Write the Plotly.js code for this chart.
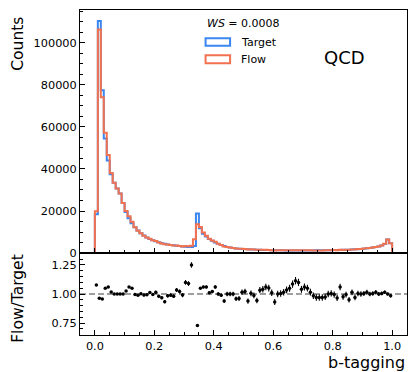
<!DOCTYPE html>
<html>
<head>
<meta charset="utf-8">
<script src="https://cdn.plot.ly/plotly-3.0.1.min.js"></script>
<style>html,body{margin:0;padding:0;background:#fff;}#chart{width:409px;height:372px;}</style>
</head>
<body>
<div id="chart"></div>
<script>
// ---- data ----
const binLow = 0.0;
const binHigh = 1.0;
const nBins = 100;

// Target counts per bin (0.01 wide bins, 0 .. 1)
const target = [
  18500, 110500, 77500, 54500, 44000, 37500, 33500, 30700, 28300, 23800,
  19500, 16500, 14200, 12300, 10700, 9400, 8300, 7400, 6700, 6100,
  5600, 5100, 4700, 4400, 4100, 3850, 3650, 3450, 3300, 3150,
  3000, 2900, 2800, 3300, 18800, 11800, 9200, 7800, 6700, 5800,
  5000, 4400, 3800, 3300, 2900, 2600, 2400, 2200, 2050, 1950,
  1900, 1800, 1720, 1650, 1580, 1520, 1470, 1420, 1380, 1350,
  1320, 1300, 1280, 1260, 1250, 1240, 1230, 1220, 1220, 1220,
  1220, 1230, 1240, 1250, 1260, 1270, 1290, 1310, 1330, 1360,
  1390, 1420, 1460, 1500, 1550, 1600, 1670, 1750, 1840, 1950,
  2080, 2230, 2400, 2600, 2850, 3150, 3600, 4300, 6400, 4700
];

// Flow counts per bin
const flow = [
  19920, 106400, 74170, 57220, 46640, 38140, 33500, 30700, 28300, 23800,
  20010, 17490, 14910, 12260, 10590, 9430, 8220, 7360, 6790, 6080,
  5680, 5000, 4550, 4110, 4040, 3810, 3580, 3570, 3370, 3120,
  3300, 3160, 3500, 6600, 13720, 12390, 9750, 8270, 6770, 5920,
  5300, 4400, 3760, 3100, 2900, 2600, 2400, 2110, 1970, 1980,
  1940, 1690, 1730, 1630, 1490, 1570, 1530, 1505, 1450, 1365,
  1228, 1300, 1286, 1279, 1294, 1302, 1335, 1360, 1342, 1269,
  1293, 1292, 1259, 1231, 1222, 1232, 1251, 1277, 1330, 1367,
  1383, 1370, 1548, 1463, 1542, 1520, 1695, 1698, 1849, 1950,
  2090, 2263, 2400, 2613, 2893, 3150, 3618, 4365, 6400, 4630
];

const xTickVals = [0.0, 0.2, 0.4, 0.6, 0.8, 1.0];
const ratioTickVals = [0.75, 1.00, 1.25];

// ---- derived ----
const binW = (binHigh - binLow) / nBins;
const edges = [];
for (let i = 0; i <= nBins; i++) edges.push(+(binLow + i * binW).toFixed(4));
const centers = [];
for (let i = 0; i < nBins; i++) centers.push((edges[i] + edges[i + 1]) / 2);

const stepX = [edges[0]].concat(edges);
const stepY = (arr) => [0].concat(arr).concat([0]);

const ratio = flow.map((f, i) => f / target[i]);
// statistical uncertainty of the ratio from the target counts
const ratioErr = flow.map((f, i) => ratio[i] / Math.sqrt(target[i]));

const blue = '#3b86f0';
const orange = '#f2714f';
const FONT = 'DejaVu Sans, Liberation Sans, sans-serif';

const traces = [
  {
    x: stepX, y: stepY(target), type: 'scatter', mode: 'lines',
    line: {shape: 'hv', color: blue, width: 2}, xaxis: 'x', yaxis: 'y',
    hoverinfo: 'skip', showlegend: false
  },
  {
    x: stepX, y: stepY(flow), type: 'scatter', mode: 'lines',
    line: {shape: 'hv', color: orange, width: 2}, xaxis: 'x', yaxis: 'y',
    hoverinfo: 'skip', showlegend: false
  },
  {
    x: centers, y: ratio, type: 'scatter', mode: 'markers',
    marker: {color: 'black', size: 3.5},
    error_y: {type: 'data', array: ratioErr, visible: true, color: 'black', thickness: 1.1, width: 0},
    xaxis: 'x2', yaxis: 'y2', showlegend: false, cliponaxis: true
  }
];

const split = 0.2523;
const axisCommon = {
  showgrid: false, zeroline: false, showline: true, mirror: true,
  linecolor: 'black', linewidth: 1, ticks: 'inside', ticklen: 5, tickwidth: 1,
  tickcolor: 'black', tickfont: {family: FONT, size: 11.3, color: 'black'}
};

const layout = {
  width: 409, height: 372,
  margin: {l: 80, r: 2, t: 10, b: 37},
  paper_bgcolor: 'white', plot_bgcolor: 'white',
  font: {family: FONT, color: 'black'},
  showlegend: false,
  xaxis: Object.assign({}, axisCommon, {
    domain: [0, 1], anchor: 'y', range: [-0.05, 1.05],
    tickvals: xTickVals, showticklabels: false,
    minor: {dtick: 0.05, tick0: 0, ticks: 'inside', ticklen: 3, tickcolor: 'black'}
  }),
  yaxis: Object.assign({}, axisCommon, {
    domain: [split, 1], anchor: 'x', range: [0, 115700],
    dtick: 20000, tick0: 0, tickformat: 'd',
    minor: {dtick: 5000, tick0: 0, ticks: 'inside', ticklen: 3, tickcolor: 'black'}
  }),
  xaxis2: Object.assign({}, axisCommon, {
    domain: [0, 1], anchor: 'y2', range: [-0.05, 1.05],
    tickvals: xTickVals, ticktext: xTickVals.map(v => v.toFixed(1)),
    minor: {dtick: 0.05, tick0: 0, ticks: 'inside', ticklen: 3, tickcolor: 'black'}
  }),
  yaxis2: Object.assign({}, axisCommon, {
    domain: [0, split], anchor: 'x2', range: [0.647, 1.353],
    tickvals: ratioTickVals, ticktext: ratioTickVals.map(v => v.toFixed(2)),
    minor: {dtick: 0.05, tick0: 0, ticks: 'inside', ticklen: 3, tickcolor: 'black'}
  }),
  shapes: [
    {type: 'line', xref: 'paper', yref: 'y2', x0: 0, x1: 1, y0: 1, y1: 1,
     line: {color: '#808080', width: 1.5, dash: '6px,3px'}, layer: 'below'},
    {type: 'rect', xref: 'paper', yref: 'paper', x0: 0.384, x1: 0.459, y0: 0.890, y1: 0.913,
     line: {color: blue, width: 2}, fillcolor: 'white'},
    {type: 'rect', xref: 'paper', yref: 'paper', x0: 0.384, x1: 0.459, y0: 0.836, y1: 0.8605,
     line: {color: orange, width: 2}, fillcolor: 'white'}
  ],
  annotations: [
    {text: 'Counts', xref: 'paper', yref: 'paper', x: -0.19, y: 0.985, xanchor: 'center', yanchor: 'top',
     textangle: -90, showarrow: false, font: {family: FONT, size: 15.5, color: 'black'}},
    {text: 'Flow/Target', xref: 'paper', yref: 'paper', x: -0.19, y: 0.114, xanchor: 'center', yanchor: 'middle',
     textangle: -90, showarrow: false, font: {family: FONT, size: 15.5, color: 'black'}},
    {text: 'b-tagging', xref: 'paper', yref: 'paper', x: 1.0, y: -0.086, xanchor: 'right', yanchor: 'middle',
     showarrow: false, font: {family: FONT, size: 16, color: 'black'}},
    {text: 'QCD', xref: 'paper', yref: 'paper', x: 0.81, y: 0.853, xanchor: 'center', yanchor: 'middle',
     showarrow: false, font: {family: FONT, size: 18, color: 'black'}},
    {text: '<i>WS</i> = 0.0008', xref: 'paper', yref: 'paper', x: 0.382, y: 0.957, xanchor: 'left', yanchor: 'middle',
     showarrow: false, font: {family: FONT, size: 11, color: 'black'}},
    {text: 'Target', xref: 'paper', yref: 'paper', x: 0.485, y: 0.9015, xanchor: 'left', yanchor: 'middle',
     showarrow: false, font: {family: FONT, size: 11, color: 'black'}},
    {text: 'Flow', xref: 'paper', yref: 'paper', x: 0.485, y: 0.849, xanchor: 'left', yanchor: 'middle',
     showarrow: false, font: {family: FONT, size: 11, color: 'black'}}
  ]
};

Plotly.newPlot('chart', traces, layout, {staticPlot: true, displayModeBar: false});
</script>
</body>
</html>
